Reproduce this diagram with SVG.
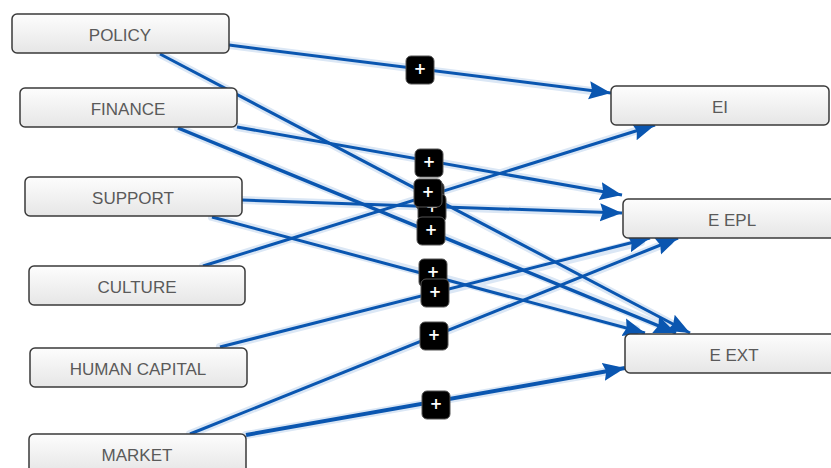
<svg xmlns="http://www.w3.org/2000/svg" width="831" height="468" viewBox="0 0 831 468">
<style>
.node rect{fill:url(#g);stroke:#3a3a3a;stroke-width:1.5}
.node text{font-family:"Liberation Sans",Arial,sans-serif;font-size:17px;fill:#5a5a5a;text-anchor:middle;dominant-baseline:central}
.halo{stroke:#dbe7f5;stroke-width:8;fill:none;stroke-linecap:round}
.ln{stroke:#0a56b0;stroke-width:3;fill:none}
.lab rect{fill:#000;stroke:#555;stroke-width:1}
.lab text{font-family:"DejaVu Sans",sans-serif;font-size:15px;font-weight:bold;fill:#fff;text-anchor:middle;dominant-baseline:central}
</style>
<defs>
<linearGradient id="g" x1="0" y1="0" x2="0" y2="1">
<stop offset="0" stop-color="#fdfdfd"/><stop offset="1" stop-color="#e6e6e6"/>
</linearGradient>
<marker id="a" markerUnits="userSpaceOnUse" markerWidth="24" markerHeight="20" refX="22" refY="10" orient="auto">
<path d="M0,1 L22,10 L0,19 L3,10 Z" fill="#0a56b0"/>
</marker>
</defs>
<g id="connectors">
<g id="halos">
<line class="halo" x1="229" y1="45" x2="600" y2="92"/>
<line class="halo" x1="160" y1="54" x2="680" y2="328"/>
<line class="halo" x1="237" y1="127" x2="612" y2="193"/>
<line class="halo" x1="178" y1="128" x2="666" y2="328"/>
<line class="halo" x1="242" y1="200" x2="612" y2="213"/>
<line class="halo" x1="212" y1="217" x2="636" y2="329"/>
<line class="halo" x1="203" y1="266" x2="645" y2="128"/>
<line class="halo" x1="220" y1="347" x2="641" y2="242"/>
<line class="halo" x1="190" y1="434" x2="669" y2="242"/>
<line class="halo" x1="246" y1="435" x2="615" y2="370"/>
</g>
<line class="ln" x1="229" y1="45" x2="611" y2="93" marker-end="url(#a)"/>
<line class="ln" x1="160" y1="54" x2="690" y2="333" marker-end="url(#a)"/>
<line class="ln" x1="237" y1="127" x2="622" y2="195" marker-end="url(#a)"/>
<line class="ln" x1="178" y1="128" x2="676" y2="333" marker-end="url(#a)" style="stroke-width:3.5"/>
<line class="ln" x1="242" y1="200" x2="622" y2="213" marker-end="url(#a)"/>
<line class="ln" x1="212" y1="217" x2="645" y2="333" marker-end="url(#a)"/>
<line class="ln" x1="203" y1="266" x2="655" y2="125" marker-end="url(#a)"/>
<line class="ln" x1="220" y1="347" x2="650" y2="238" marker-end="url(#a)"/>
<line class="ln" x1="190" y1="434" x2="678" y2="238" marker-end="url(#a)"/>
<line class="ln" x1="246" y1="435" x2="625" y2="368" marker-end="url(#a)" style="stroke-width:4"/>
<g id="labels">
<g class="lab"><rect x="406" y="56" width="28" height="28" rx="5"/><text x="420" y="69">+</text></g>
<g class="lab"><rect x="415" y="149" width="28" height="28" rx="5"/><text x="429" y="162">+</text></g>
<g class="lab"><rect x="416" y="182" width="28" height="28" rx="5"/><text x="430" y="195">+</text></g>
<g class="lab"><rect x="418" y="194" width="28" height="28" rx="5"/><text x="432" y="207">+</text></g>
<g class="lab"><rect x="414" y="179" width="28" height="28" rx="5"/><text x="428" y="192">+</text></g>
<g class="lab"><rect x="417" y="217" width="28" height="28" rx="5"/><text x="431" y="230">+</text></g>
<g class="lab"><rect x="419" y="259" width="28" height="28" rx="5"/><text x="433" y="272">+</text></g>
<g class="lab"><rect x="421" y="279" width="28" height="28" rx="5"/><text x="435" y="292">+</text></g>
<g class="lab"><rect x="420" y="322" width="28" height="28" rx="5"/><text x="434" y="335">+</text></g>
<g class="lab"><rect x="422" y="391" width="28" height="28" rx="5"/><text x="436" y="404">+</text></g>
</g>
</g>
<g id="n-policy" class="node"><rect x="12" y="14" width="217" height="39" rx="5"/><text x="120" y="35">POLICY</text></g>
<g id="n-finance" class="node"><rect x="20" y="88" width="217" height="39" rx="5"/><text x="128" y="109">FINANCE</text></g>
<g id="n-support" class="node"><rect x="25" y="177" width="217" height="39" rx="5"/><text x="133" y="198">SUPPORT</text></g>
<g id="n-culture" class="node"><rect x="29" y="266" width="216" height="39" rx="5"/><text x="137" y="287">CULTURE</text></g>
<g id="n-human" class="node"><rect x="30" y="348" width="217" height="39" rx="5"/><text x="138" y="369">HUMAN CAPITAL</text></g>
<g id="n-market" class="node"><rect x="29" y="434" width="217" height="39" rx="5"/><text x="137" y="455">MARKET</text></g>
<g id="n-ei" class="node"><rect x="611" y="86" width="218" height="39" rx="5"/><text x="720" y="107">EI</text></g>
<g id="n-eepl" class="node"><rect x="623" y="199" width="218" height="39" rx="5"/><text x="732" y="220">E EPL</text></g>
<g id="n-eext" class="node"><rect x="625" y="334" width="218" height="39" rx="5"/><text x="734" y="355">E EXT</text></g>
</svg>
